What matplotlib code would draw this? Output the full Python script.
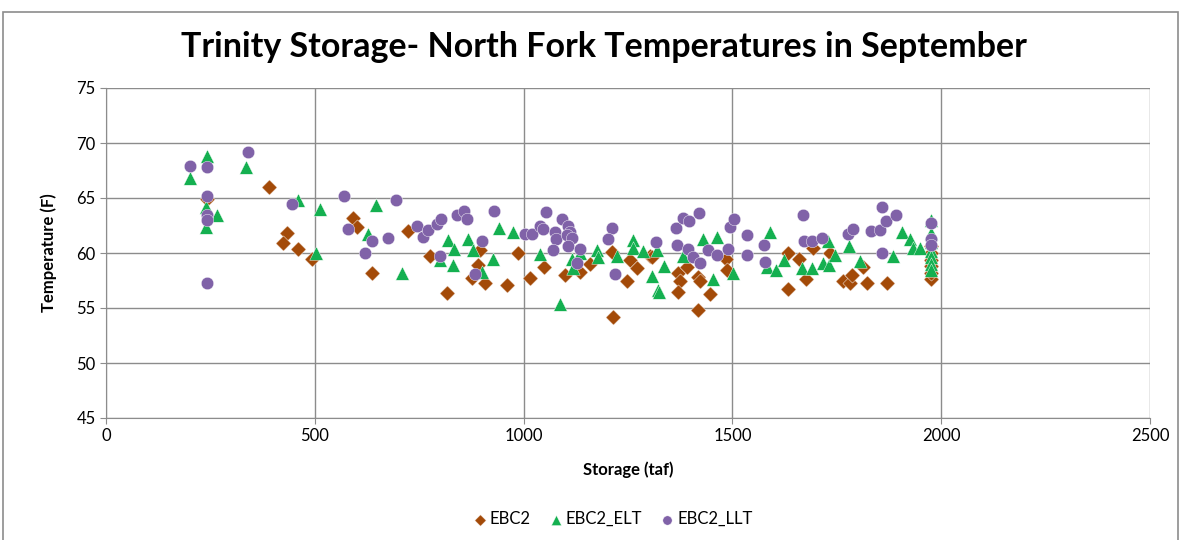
import matplotlib
matplotlib.use("Agg")
import matplotlib.pyplot as plt
from matplotlib.patches import Rectangle

plt.rcParams["font.family"] = ["Lato", "DejaVu Sans"]

# EBC2 (brown diamonds)
ebc2_x = [242, 390, 434, 424, 460, 494, 592, 601, 637, 723, 776, 816, 896, 891, 876,
          908, 960, 987, 1015, 1049, 1099, 1135, 1159, 1214, 1212, 1255, 1272, 1247,
          1303, 1307, 1370, 1375, 1370, 1391, 1418, 1422, 1418, 1446, 1485, 1487,
          1633, 1633, 1660, 1676, 1693, 1734, 1765, 1782, 1786, 1813, 1823, 1870,
          1975, 1975, 1975, 1975, 1975, 1975]
ebc2_y = [64.9, 66.0, 61.8, 60.9, 60.4, 59.5, 63.2, 62.4, 58.2, 62.0, 59.7, 56.4, 60.3,
          58.9, 57.7, 57.3, 57.1, 60.0, 57.7, 58.7, 58.0, 58.3, 59.0, 54.2, 60.1, 59.4,
          58.6, 57.5, 59.7, 59.6, 58.2, 57.5, 56.5, 58.7, 57.8, 57.5, 54.8, 56.3, 59.5,
          58.5, 60.0, 56.7, 59.5, 57.6, 60.5, 60.0, 57.5, 57.3, 58.0, 58.7, 57.3, 57.3,
          57.6, 58.2, 58.8, 59.4, 60.0, 60.6]

# EBC2_ELT (green triangles)
elt_x = [242, 201, 335, 240, 265, 240, 460, 512, 503, 646, 627, 709, 819, 834, 800,
         831, 867, 878, 900, 926, 941, 974, 1039, 1087, 1115, 1118, 1135, 1175, 1178,
         1223, 1262, 1262, 1286, 1307, 1322, 1319, 1337, 1324, 1382, 1430, 1463, 1454,
         1501, 1590, 1583, 1604, 1623, 1666, 1690, 1729, 1717, 1731, 1746, 1779, 1806,
         1885, 1906, 1925, 1933, 1949, 1975, 1975, 1975, 1975, 1975, 1975, 1975]
elt_y = [68.8, 66.8, 67.8, 64.2, 63.5, 62.4, 64.8, 64.0, 60.0, 64.4, 61.7, 58.2, 61.2,
         60.4, 59.4, 58.9, 61.3, 60.3, 58.3, 59.5, 62.3, 61.9, 59.9, 55.4, 59.5, 58.6,
         60.0, 60.3, 59.6, 59.7, 61.2, 60.5, 60.2, 57.9, 56.6, 60.3, 58.8, 56.5, 59.7,
         61.3, 61.5, 57.6, 58.2, 61.9, 58.7, 58.5, 59.4, 58.6, 58.6, 61.1, 59.1, 58.9,
         59.8, 60.6, 59.3, 59.7, 61.9, 61.3, 60.5, 60.5, 63.0, 61.8, 61.0, 60.2, 59.6,
         59.0, 58.5]

# EBC2_LLT (purple circles)
llt_x = [201, 242, 340, 242, 242, 242, 242, 445, 570, 694, 580, 637, 675, 620, 745,
         759, 771, 793, 802, 800, 840, 857, 864, 900, 884, 929, 1003, 1020, 1039, 1046,
         1053, 1075, 1077, 1092, 1106, 1111, 1104, 1116, 1106, 1070, 1135, 1128, 1212,
         1202, 1219, 1317, 1365, 1382, 1396, 1420, 1367, 1394, 1406, 1422, 1442, 1463,
         1489, 1494, 1504, 1535, 1535, 1576, 1578, 1669, 1671, 1690, 1714, 1777, 1789,
         1832, 1853, 1858, 1868, 1892, 1858, 1975, 1975, 1975]
llt_y = [67.9, 67.8, 69.2, 65.2, 63.5, 63.0, 57.3, 64.5, 65.2, 64.8, 62.2, 61.1, 61.4,
         60.0, 62.5, 61.5, 62.1, 62.6, 63.1, 59.7, 63.5, 63.8, 63.1, 61.1, 58.1, 63.8,
         61.7, 61.7, 62.5, 62.2, 63.7, 61.9, 61.3, 63.1, 62.5, 61.9, 61.6, 61.4, 60.6,
         60.3, 60.4, 59.1, 62.3, 61.3, 58.1, 61.0, 62.3, 63.2, 62.9, 63.6, 60.7, 60.4,
         59.6, 59.1, 60.3, 59.8, 60.4, 62.4, 63.1, 61.6, 59.8, 60.7, 59.2, 63.5, 61.1,
         61.1, 61.4, 61.7, 62.2, 62.0, 62.1, 64.2, 62.9, 63.5, 60.0, 62.7, 61.3, 60.7]

x_ticks = [0, 500, 1000, 1500, 2000, 2500]
y_ticks = [45, 50, 55, 60, 65, 70, 75]


def main():
    fig = plt.figure(figsize=(11.81, 5.4), dpi=100)
    ax = fig.add_axes([106 / 1181, 1 - 418 / 540, (1150 - 106) / 1181, (418 - 88) / 540])

    # chart area border
    fig.patches.append(Rectangle((3 / 1181, -0.01), 1175 / 1181, 1 - 12 / 540 + 0.01,
                                 transform=fig.transFigure, fill=False,
                                 edgecolor="#8c8c8c", linewidth=1.2))

    ax.scatter(ebc2_x, ebc2_y, marker="D", s=60, color="#a34a08",
               edgecolors="#ffffff", linewidths=0.3, label="EBC2", zorder=3)
    ax.scatter(elt_x, elt_y, marker="^", s=95, color="#14b050",
               edgecolors="#ffffff", linewidths=0.3, label="EBC2_ELT", zorder=3)
    ax.scatter(llt_x, llt_y, marker="o", s=80, color="#8062a8",
               edgecolors="#ffffff", linewidths=0.3, label="EBC2_LLT", zorder=3)

    ax.set_xlim(0, 2500)
    ax.set_ylim(45, 75)
    ax.set_xticks(x_ticks)
    ax.set_yticks(y_ticks)
    ax.grid(True, color="#8c8c8c", linewidth=1.0)
    ax.set_axisbelow(True)
    for side in ["top", "right"]:
        ax.spines[side].set_visible(False)
    for side in ["left", "bottom"]:
        ax.spines[side].set_color("#8c8c8c")
    ax.tick_params(colors="#8c8c8c", labelcolor="black", labelsize=12, length=4)

    ax.set_xlabel("Storage (taf)", fontsize=12, fontweight="bold", labelpad=12)
    ax.set_ylabel("Temperature (F)", fontsize=12, fontweight="bold", labelpad=14)
    fig.text(604 / 1181, 1 - 47 / 540, "Trinity Storage- North Fork Temperatures in September",
             ha="center", va="center", fontsize=24.5, fontweight="bold")

    fig.legend(loc="center", bbox_to_anchor=(612 / 1181, 1 - 519 / 540), ncol=3,
               frameon=False, fontsize=12, handletextpad=0.1, handlelength=1.0,
               columnspacing=1.0, markerscale=0.75)

    fig.savefig("out.png", dpi=100)


if __name__ == "__main__":
    main()
